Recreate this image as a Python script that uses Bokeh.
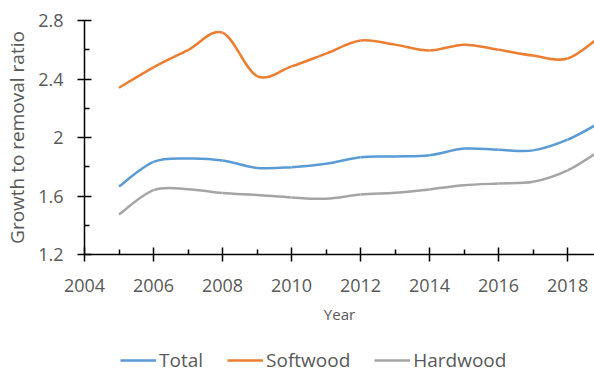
from bokeh.plotting import figure
from bokeh.layouts import column
from bokeh.models import (ColumnDataSource, FixedTicker, NumeralTickFormatter,
                          Legend, LegendItem, Range1d)
from bokeh.embed import file_html
from bokeh.resources import INLINE

years = [2005, 2006, 2007, 2008, 2009, 2010, 2011, 2012, 2013, 2014, 2015, 2016, 2017, 2018, 2019]
total = [1.665, 1.833, 1.856, 1.843, 1.792, 1.797, 1.82, 1.865, 1.87, 1.878, 1.924, 1.916, 1.912, 1.985, 2.11]
softwood = [2.34, 2.48, 2.598, 2.717, 2.42, 2.486, 2.574, 2.663, 2.635, 2.595, 2.635, 2.6, 2.56, 2.54, 2.70]
hardwood = [1.474, 1.64, 1.647, 1.62, 1.607, 1.59, 1.581, 1.61, 1.623, 1.645, 1.673, 1.686, 1.697, 1.775, 1.92]

series_names = ["Total", "Softwood", "Hardwood"]
series_colors = ["#5B9BD5", "#ED7D31", "#A5A5A5"]

x_major = [2004, 2006, 2008, 2010, 2012, 2014, 2016, 2018]
x_minor = [2005, 2007, 2009, 2011, 2013, 2015, 2017, 2019]
y_major = [1.2, 1.6, 2.0, 2.4, 2.8]
y_minor = [1.4, 1.8, 2.2, 2.6]

FONT = "Open Sans"
TXT = "#595959"


def smooth_segments(xs, ys):
    # Bezier control points (Excel-style smoothed line) through the data points
    n = len(xs)
    d = dict(x0=[], y0=[], x1=[], y1=[], cx0=[], cy0=[], cx1=[], cy1=[])
    for i in range(n - 1):
        ip = max(i - 1, 0)
        inn = min(i + 2, n - 1)
        d["x0"].append(xs[i]); d["y0"].append(ys[i])
        d["x1"].append(xs[i + 1]); d["y1"].append(ys[i + 1])
        d["cx0"].append(xs[i] + (xs[i + 1] - xs[ip]) / 6)
        d["cy0"].append(ys[i] + (ys[i + 1] - ys[ip]) / 6)
        d["cx1"].append(xs[i + 1] - (xs[inn] - xs[i]) / 6)
        d["cy1"].append(ys[i + 1] - (ys[inn] - ys[i]) / 6)
    return ColumnDataSource(d)


p = figure(width=594, height=332, output_backend="svg", toolbar_location=None,
           x_range=Range1d(2004, 2018.78), y_range=Range1d(1.2, 2.8),
           min_border_left=84, min_border_right=0, min_border_top=20,
           min_border_bottom=78)
p.outline_line_color = None
p.xgrid.visible = False
p.ygrid.visible = False
p.background_fill_color = "white"
p.border_fill_color = "white"

for name, color, vals in zip(series_names, series_colors, [total, softwood, hardwood]):
    src = smooth_segments(years, vals)
    p.bezier(x0="x0", y0="y0", x1="x1", y1="y1", cx0="cx0", cy0="cy0",
             cx1="cx1", cy1="cy1", source=src, line_color=color, line_width=2.5)

for ax in (p.xaxis[0], p.yaxis[0]):
    ax.axis_line_color = "black"
    ax.axis_line_width = 1.5
    ax.major_tick_line_color = "black"
    ax.major_tick_line_width = 1.5
    ax.minor_tick_line_color = "black"
    ax.minor_tick_line_width = 1.5
    ax.major_tick_in = 7
    ax.major_tick_out = 7
    ax.minor_tick_in = 5
    ax.minor_tick_out = 0
    ax.major_label_text_font = FONT
    ax.major_label_text_font_size = "18px"
    ax.major_label_text_color = TXT
    ax.axis_label_text_font = FONT
    ax.axis_label_text_font_style = "normal"
    ax.axis_label_text_color = TXT

p.xaxis.ticker = FixedTicker(ticks=x_major, minor_ticks=x_minor)
p.yaxis.ticker = FixedTicker(ticks=y_major, minor_ticks=y_minor)
p.xaxis.formatter = NumeralTickFormatter(format="0")
p.yaxis.formatter = NumeralTickFormatter(format="0.[0]")
p.xaxis.axis_label = "Year"
p.yaxis.axis_label = "Growth to removal ratio"
p.xaxis.axis_label_text_font_size = "15px"
p.yaxis.axis_label_text_font_size = "19px"
p.xaxis.major_label_standoff = 17
p.yaxis.major_label_standoff = 14
p.xaxis.axis_label_standoff = 9
p.yaxis.axis_label_standoff = 5

# legend strip below the chart (its frame is aligned with the chart's frame)
lg = figure(width=594, height=41, output_backend="svg", toolbar_location=None,
            x_range=Range1d(0, 1), y_range=Range1d(0, 1),
            min_border_left=0, min_border_right=0, min_border_top=0,
            min_border_bottom=0)
lg.axis.visible = False
lg.grid.visible = False
lg.outline_line_color = None
lg.border_fill_color = "white"
items = []
for name, color in zip(series_names, series_colors):
    r = lg.line(x=[-5, -4], y=[-5, -5], line_color=color, line_width=2.5)
    items.append(LegendItem(label=name, renderers=[r]))
legend = Legend(items=items, orientation="horizontal", location=(36, 0),
                label_text_font=FONT, label_text_font_size="19px",
                label_text_color=TXT, glyph_width=36, glyph_height=20,
                label_height=20, label_standoff=3, spacing=24, padding=0,
                margin=0, border_line_color=None, background_fill_alpha=0)
lg.add_layout(legend, "center")

layout = column(p, lg, spacing=0)
open("out.html", "w").write(file_html(layout, INLINE))
